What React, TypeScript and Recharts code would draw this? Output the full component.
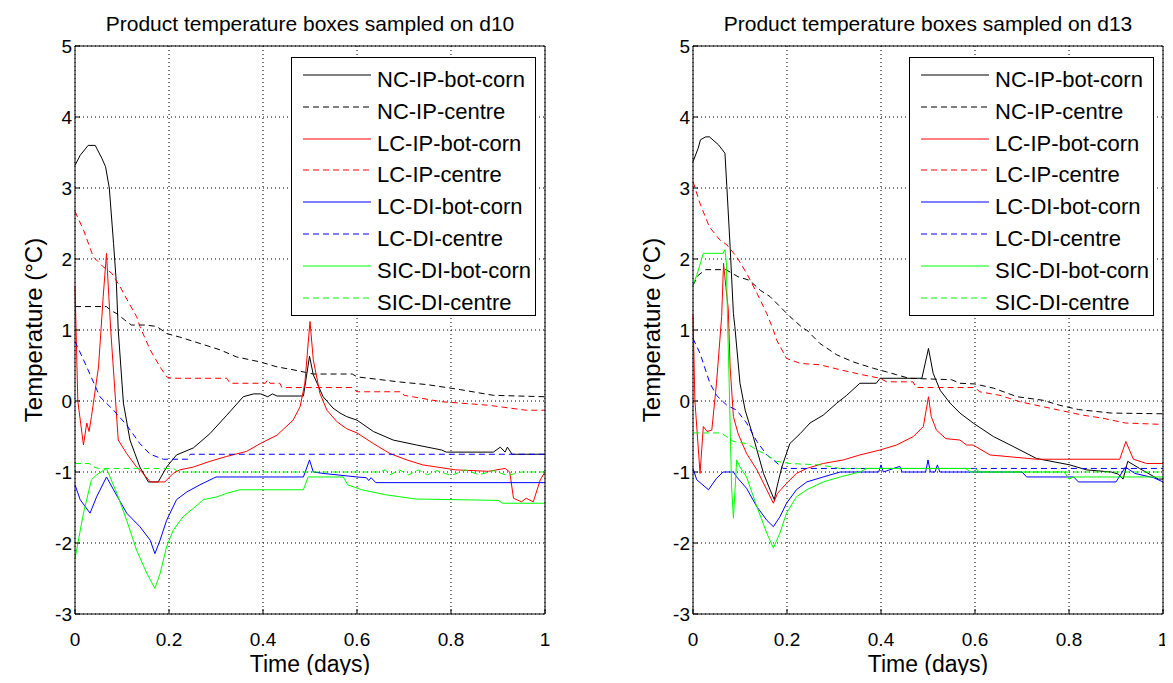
import React from "react";
import { CartesianGrid, Label, Legend, Line, LineChart, XAxis, YAxis } from "recharts";

type Pt = [number, number];

const FONT = '"Liberation Sans", Arial, Helvetica, sans-serif';

const timeTicks = [0, 0.2, 0.4, 0.6, 0.8, 1];
const tempTicks = [-3, -2, -1, 0, 1, 2, 3, 4, 5];

const seriesNames = [
	"NC-IP-bot-corn",
	"NC-IP-centre",
	"LC-IP-bot-corn",
	"LC-IP-centre",
	"LC-DI-bot-corn",
	"LC-DI-centre",
	"SIC-DI-bot-corn",
	"SIC-DI-centre",
];
const seriesColors = ["#000000", "#000000", "#ff0000", "#ff0000", "#0000ff", "#0000ff", "#00ff00", "#00ff00"];
const seriesDashed = [false, true, false, true, false, true, false, true];

// boxes sampled on d10 — [time (days), temperature (°C)]
const d10NcIpBot: Pt[] = [
	[0, 3.32], [0.011, 3.46], [0.028, 3.6], [0.043, 3.6], [0.057, 3.42], [0.065, 3.3], [0.073, 3.0], [0.082, 2.22],
	[0.088, 1.66], [0.092, 1.0], [0.103, -0.03], [0.117, -0.55], [0.138, -0.93], [0.156, -1.14], [0.177, -1.14],
	[0.195, -0.93], [0.216, -0.76], [0.252, -0.66], [0.287, -0.46], [0.323, -0.2], [0.358, 0.06], [0.38, 0.1],
	[0.395, 0.1], [0.41, 0.06], [0.42, 0.1], [0.43, 0.07], [0.486, 0.07], [0.499, 0.63], [0.507, 0.37], [0.528, 0.06],
	[0.549, -0.1], [0.564, -0.17], [0.578, -0.22], [0.6, -0.27], [0.635, -0.43], [0.677, -0.55], [0.727, -0.62],
	[0.78, -0.69], [0.79, -0.72], [0.89, -0.72], [0.905, -0.65], [0.915, -0.72], [0.92, -0.65], [0.93, -0.75], [1, -0.75],
];
const d10NcIpCentre: Pt[] = [
	[0, 1.33], [0.067, 1.33], [0.075, 1.28], [0.089, 1.23], [0.106, 1.14], [0.12, 1.07], [0.149, 1.07], [0.174, 1.05],
	[0.195, 0.95], [0.223, 0.9], [0.266, 0.81], [0.309, 0.72], [0.344, 0.62], [0.394, 0.55], [0.43, 0.48], [0.464, 0.44],
	[0.507, 0.38], [0.59, 0.38], [0.6, 0.34], [0.688, 0.27], [0.75, 0.23], [0.82, 0.16], [0.89, 0.08], [1, 0.06],
];
const d10LcIpBot: Pt[] = [
	[0, 1.61], [0.006, 0.0], [0.018, -0.62], [0.025, -0.31], [0.03, -0.43], [0.035, -0.22], [0.05, 0.48], [0.057, 1.17],
	[0.06, 1.47], [0.067, 2.08], [0.072, 1.47], [0.076, 1.0], [0.092, -0.55], [0.11, -0.74], [0.131, -0.93],
	[0.145, -1.02], [0.16, -1.14], [0.191, -1.14], [0.209, -1.02], [0.223, -0.97], [0.252, -0.93], [0.287, -0.85],
	[0.323, -0.78], [0.365, -0.71], [0.394, -0.6], [0.43, -0.48], [0.464, -0.27], [0.479, -0.08], [0.489, 0.25],
	[0.5, 1.12], [0.507, 0.58], [0.521, 0.11], [0.536, -0.13], [0.557, -0.29], [0.578, -0.39], [0.6, -0.45],
	[0.635, -0.6], [0.67, -0.74], [0.706, -0.83], [0.74, -0.9], [0.81, -0.97], [0.88, -0.99], [0.915, -0.95],
	[0.925, -1.0], [0.933, -1.37], [0.95, -1.42], [0.96, -1.37], [0.975, -1.42], [0.99, -1.11], [1, -1.0],
];
const d10LcIpCentre: Pt[] = [
	[0, 2.67], [0.018, 2.41], [0.039, 2.03], [0.06, 1.89], [0.078, 1.8], [0.096, 1.61], [0.113, 1.4], [0.131, 1.19],
	[0.138, 1.05], [0.16, 0.72], [0.181, 0.48], [0.195, 0.34], [0.205, 0.32], [0.323, 0.32], [0.33, 0.25], [0.405, 0.25],
	[0.41, 0.3], [0.415, 0.25], [0.436, 0.25], [0.44, 0.19], [0.59, 0.19], [0.6, 0.13], [0.695, 0.13], [0.7, 0.08],
	[0.78, -0.01], [0.88, -0.06], [0.96, -0.13], [1, -0.13],
];
const d10LcDiBot: Pt[] = [
	[0, -1.18], [0.011, -1.39], [0.032, -1.58], [0.046, -1.35], [0.067, -1.07], [0.082, -1.25], [0.11, -1.58],
	[0.138, -1.77], [0.16, -1.96], [0.17, -2.15], [0.181, -1.96], [0.195, -1.68], [0.216, -1.39], [0.238, -1.28],
	[0.266, -1.18], [0.294, -1.09], [0.3, -1.07], [0.486, -1.07], [0.499, -0.83], [0.507, -1.0], [0.528, -1.02],
	[0.6, -1.07], [0.62, -1.08], [0.625, -1.12], [0.63, -1.08], [0.64, -1.15], [1, -1.15],
];
const d10LcDiCentre: Pt[] = [
	[0, 0.84], [0.025, 0.48], [0.053, 0.06], [0.082, -0.13], [0.11, -0.34], [0.138, -0.6], [0.16, -0.75], [0.188, -0.82],
	[0.24, -0.82], [0.245, -0.75], [1, -0.75],
];
const d10SicDiBot: Pt[] = [
	[0, -2.22], [0.018, -1.58], [0.035, -1.11], [0.046, -1.04], [0.067, -0.95], [0.089, -1.3], [0.11, -1.68],
	[0.131, -2.1], [0.153, -2.43], [0.17, -2.64], [0.181, -2.43], [0.195, -2.05], [0.209, -1.82], [0.23, -1.63],
	[0.252, -1.51], [0.273, -1.39], [0.302, -1.35], [0.323, -1.3], [0.351, -1.25], [0.486, -1.25], [0.496, -1.07],
	[0.571, -1.07], [0.58, -1.18], [0.61, -1.25], [0.66, -1.32], [0.725, -1.38], [0.9, -1.4], [0.91, -1.44], [1, -1.44],
];
const d10SicDiCentre: Pt[] = [
	[0, -0.88], [0.03, -0.88], [0.04, -0.93], [0.05, -0.95], [0.21, -0.95], [0.22, -1.0], [0.65, -1.0], [0.66, -0.97],
	[0.67, -1.04], [0.69, -0.97], [0.71, -1.04], [0.73, -0.97], [0.75, -1.04], [0.77, -0.98], [0.8, -1.05],
	[0.83, -0.97], [0.86, -1.04], [0.89, -0.98], [0.92, -1.05], [0.95, -1.0], [1, -1.0],
];

// boxes sampled on d13
const d13NcIpBot: Pt[] = [
	[0, 3.37], [0.011, 3.56], [0.016, 3.68], [0.027, 3.72], [0.035, 3.72], [0.054, 3.61], [0.068, 3.49], [0.072, 3.02],
	[0.079, 2.17], [0.086, 1.23], [0.089, 1.05], [0.1, 0.25], [0.111, -0.13], [0.128, -0.5], [0.15, -1.02],
	[0.164, -1.25], [0.173, -1.39], [0.179, -1.2], [0.189, -0.93], [0.206, -0.6], [0.228, -0.46], [0.249, -0.31],
	[0.277, -0.2], [0.306, -0.03], [0.327, 0.08], [0.355, 0.25], [0.39, 0.25], [0.398, 0.32], [0.487, 0.32],
	[0.501, 0.74], [0.511, 0.39], [0.526, 0.15], [0.547, -0.03], [0.568, -0.17], [0.596, -0.31], [0.639, -0.5],
	[0.681, -0.64], [0.731, -0.81], [0.802, -0.9], [0.837, -0.97], [0.89, -1.0], [0.905, -1.03], [0.915, -1.1],
	[0.925, -0.85], [0.95, -0.95], [0.99, -1.1], [1, -1.1],
];
const d13NcIpCentre: Pt[] = [
	[0, 1.63], [0.011, 1.77], [0.027, 1.85], [0.07, 1.85], [0.096, 1.75], [0.12, 1.7], [0.143, 1.56], [0.164, 1.47],
	[0.185, 1.33], [0.206, 1.19], [0.235, 1.02], [0.242, 1.0], [0.27, 0.81], [0.306, 0.65], [0.341, 0.55],
	[0.384, 0.46], [0.412, 0.41], [0.433, 0.37], [0.46, 0.32], [0.55, 0.3], [0.568, 0.25], [0.6, 0.24], [0.64, 0.18],
	[0.69, 0.06], [0.745, 0.01], [0.78, -0.06], [0.82, -0.12], [0.89, -0.17], [1, -0.18],
];
const d13LcIpBot: Pt[] = [
	[0, 1.21], [0.004, 0.01], [0.015, -1.02], [0.022, -0.36], [0.03, -0.43], [0.04, -0.41], [0.05, 0.25], [0.061, 1.19],
	[0.065, 1.94], [0.07, 1.6], [0.075, 1.3], [0.079, 0.48], [0.086, -0.22], [0.096, -0.46], [0.114, -0.74],
	[0.136, -0.97], [0.157, -1.25], [0.171, -1.44], [0.18, -1.3], [0.199, -1.16], [0.22, -1.02], [0.242, -0.95],
	[0.277, -0.88], [0.32, -0.83], [0.355, -0.76], [0.398, -0.69], [0.433, -0.62], [0.469, -0.5], [0.49, -0.36],
	[0.501, 0.06], [0.507, -0.22], [0.518, -0.41], [0.538, -0.53], [0.568, -0.55], [0.582, -0.62], [0.596, -0.62],
	[0.632, -0.76], [0.731, -0.82], [0.908, -0.82], [0.921, -0.57], [0.937, -0.82], [0.965, -0.88], [1, -0.88],
];
const d13LcIpCentre: Pt[] = [
	[0, 3.09], [0.015, 2.78], [0.035, 2.45], [0.057, 2.27], [0.072, 2.2], [0.093, 2.03], [0.114, 1.8], [0.136, 1.52],
	[0.157, 1.23], [0.171, 1.0], [0.178, 0.86], [0.199, 0.6], [0.228, 0.53], [0.27, 0.51], [0.313, 0.44], [0.36, 0.37],
	[0.398, 0.32], [0.412, 0.27], [0.468, 0.27], [0.475, 0.19], [0.6, 0.19], [0.61, 0.13], [0.653, 0.08],
	[0.695, -0.01], [0.78, -0.13], [0.83, -0.2], [0.87, -0.24], [0.92, -0.31], [1, -0.33],
];
const d13LcDiBot: Pt[] = [
	[0, -0.95], [0.008, -1.11], [0.033, -1.25], [0.05, -1.09], [0.064, -1.0], [0.086, -1.0], [0.093, -1.07],
	[0.114, -1.23], [0.136, -1.49], [0.157, -1.68], [0.171, -1.77], [0.185, -1.63], [0.199, -1.44], [0.22, -1.25],
	[0.242, -1.14], [0.277, -1.07], [0.313, -1.0], [0.395, -1.0], [0.4, -0.9], [0.405, -1.0], [0.44, -0.92],
	[0.445, -1.0], [0.495, -1.0], [0.5, -0.83], [0.505, -1.0], [0.515, -1.0], [0.52, -0.9], [0.525, -1.0], [0.7, -1.0],
	[0.71, -1.07], [0.81, -1.07], [0.82, -1.14], [0.9, -1.14], [0.92, -0.93], [0.94, -1.02], [0.98, -1.08], [1, -1.14],
];
const d13LcDiCentre: Pt[] = [
	[0, 0.88], [0.015, 0.67], [0.036, 0.25], [0.05, 0.08], [0.072, -0.06], [0.093, -0.13], [0.114, -0.31],
	[0.136, -0.57], [0.157, -0.76], [0.171, -0.83], [0.192, -0.95], [1, -0.95],
];
const d13SicDiBot: Pt[] = [
	[0, 1.63], [0.008, 1.77], [0.022, 2.08], [0.064, 2.08], [0.068, 2.13], [0.071, 1.95], [0.074, 1.0], [0.077, 0.25],
	[0.082, -1.2], [0.086, -1.65], [0.093, -0.83], [0.1, -0.93], [0.114, -1.07], [0.136, -1.49], [0.157, -1.86],
	[0.171, -2.07], [0.185, -1.86], [0.199, -1.58], [0.22, -1.35], [0.242, -1.25], [0.277, -1.14], [0.313, -1.07],
	[0.355, -1.0], [0.37, -0.95], [0.58, -0.95], [0.59, -1.0], [0.79, -1.0], [0.8, -1.1], [0.81, -1.07], [1, -1.07],
];
const d13SicDiCentre: Pt[] = [
	[0, -0.45], [0.06, -0.45], [0.086, -0.57], [0.114, -0.6], [0.136, -0.69], [0.157, -0.76], [0.178, -0.85],
	[0.206, -0.88], [0.27, -0.9], [0.313, -0.95], [0.6, -0.95], [0.61, -1.0], [1, -1.0],
];

const d10Series = [d10NcIpBot, d10NcIpCentre, d10LcIpBot, d10LcIpCentre, d10LcDiBot, d10LcDiCentre, d10SicDiBot, d10SicDiCentre];
const d13Series = [d13NcIpBot, d13NcIpCentre, d13LcIpBot, d13LcIpCentre, d13LcDiBot, d13LcDiCentre, d13SicDiBot, d13SicDiCentre];

const toRows = (pts: Pt[]) => pts.map(([t, v]) => ({ t, v }));

// tick labels drawn by hand so the font size sticks
const XTick = (p: any) => (
	<text x={p.x} y={p.y} dy="0.71em" textAnchor="middle" fontSize={19} fontFamily={FONT} fill="#000">
		{p.payload.value}
	</text>
);
const YTick = (p: any) => (
	<text x={p.x} y={p.y} dy="0.36em" textAnchor="end" fontSize={19} fontFamily={FONT} fill="#000">
		{p.payload.value}
	</text>
);

function LegendBox() {
	return (
		<div
			style={{
				position: "relative",
				width: 245,
				height: 259,
				boxSizing: "border-box",
				border: "1px solid #000",
				background: "#fff",
				fontFamily: FONT,
			}}
		>
			{seriesNames.map((name, i) => (
				<React.Fragment key={name}>
					<svg style={{ position: "absolute", left: 11, top: 16 + 31.8 * i }} width={68} height={2}>
						<line x1={0} y1={1} x2={68} y2={1} stroke={seriesColors[i]} strokeDasharray={seriesDashed[i] ? "6 4" : undefined} />
					</svg>
					<div style={{ position: "absolute", left: 85, top: 11 + 31.8 * i, fontSize: 22, lineHeight: "22px", whiteSpace: "nowrap", color: "#000" }}>
						{name}
					</div>
				</React.Fragment>
			))}
		</div>
	);
}

function Panel({ title, series }: { title: string; series: Pt[][] }) {
	return (
		<LineChart width={555} height={683} margin={{ top: 45, right: 9, bottom: 39, left: 0 }}>
			<CartesianGrid stroke="#000" strokeDasharray="1 3" />
			<XAxis
				dataKey="t"
				type="number"
				domain={[0, 1]}
				ticks={timeTicks}
				height={30}
				tickSize={-5}
				tickMargin={24}
				axisLine={{ stroke: "#000" }}
				tickLine={{ stroke: "#000" }}
				tick={XTick}
			>
				<Label
					content={(p: any) => {
						const vb = p.viewBox || { x: 75, y: 614, width: 470, height: 30 };
						return (
							<text x={vb.x + vb.width / 2} y={vb.y + vb.height + 28} textAnchor="middle" fontSize={23} fontFamily={FONT} fill="#000">
								Time (days)
							</text>
						);
					}}
				/>
			</XAxis>
			<XAxis
				xAxisId="top"
				dataKey="t"
				type="number"
				orientation="top"
				domain={[0, 1]}
				ticks={timeTicks}
				height={1}
				tickSize={-5}
				tick={false}
				axisLine={{ stroke: "#000" }}
				tickLine={{ stroke: "#000" }}
			>
				<Label
					content={(p: any) => {
						const vb = p.viewBox || { x: 75, y: 45, width: 470, height: 1 };
						return (
							<text x={vb.x + vb.width / 2} y={vb.y - 14} textAnchor="middle" fontSize={21} fontFamily={FONT} fill="#000">
								{title}
							</text>
						);
					}}
				/>
			</XAxis>
			<YAxis
				type="number"
				domain={[-3, 5]}
				ticks={tempTicks}
				width={75}
				tickSize={-5}
				tickMargin={8}
				axisLine={{ stroke: "#000" }}
				tickLine={{ stroke: "#000" }}
				tick={YTick}
			>
				<Label
					content={(p: any) => {
						const vb = p.viewBox || { x: 0, y: 46, width: 75, height: 568 };
						const cx = vb.x + 42;
						const cy = vb.y + vb.height / 2;
						return (
							<text x={cx} y={cy} transform={`rotate(-90 ${cx} ${cy})`} textAnchor="middle" fontSize={24} fontFamily={FONT} fill="#000">
								Temperature (°C)
							</text>
						);
					}}
				/>
			</YAxis>
			<YAxis
				yAxisId="right"
				type="number"
				orientation="right"
				domain={[-3, 5]}
				ticks={tempTicks}
				width={1}
				tickSize={-5}
				tick={false}
				axisLine={{ stroke: "#000" }}
				tickLine={{ stroke: "#000" }}
			/>
			{series.map((pts, i) => (
				<Line
					key={seriesNames[i]}
					data={toRows(pts)}
					dataKey="v"
					name={seriesNames[i]}
					type="linear"
					stroke={seriesColors[i]}
					strokeWidth={1}
					strokeDasharray={seriesDashed[i] ? "6 4" : undefined}
					dot={false}
					activeDot={false}
					isAnimationActive={false}
				/>
			))}
			<Legend
				layout="vertical"
				align="center"
				verticalAlign="middle"
				content={() => <LegendBox />}
				wrapperStyle={{ left: 291, top: 57, width: 245, height: 259 }}
			/>
		</LineChart>
	);
}

export default function App() {
	return (
		<div style={{ position: "relative", width: 1173, height: 683, margin: -8, background: "#fff", overflow: "hidden" }}>
			<div style={{ position: "absolute", left: 0, top: 0 }}>
				<Panel title="Product temperature boxes sampled on d10" series={d10Series} />
			</div>
			<div style={{ position: "absolute", left: 618, top: 0 }}>
				<Panel title="Product temperature boxes sampled on d13" series={d13Series} />
			</div>
		</div>
	);
}
